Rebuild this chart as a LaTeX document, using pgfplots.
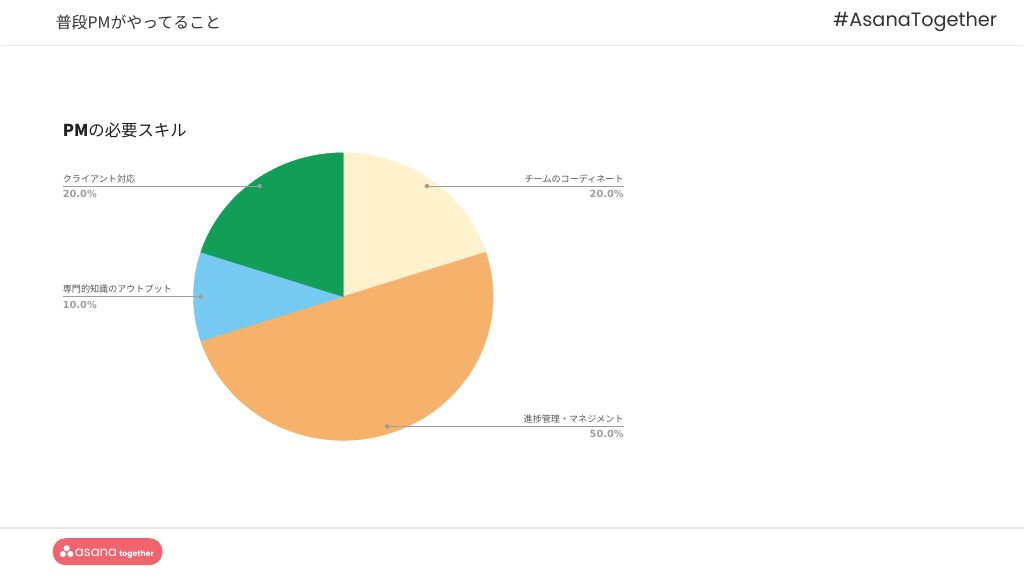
\documentclass[border=0pt]{standalone}
\usepackage{fontspec}
\setmainfont{Noto Sans CJK JP}
\newfontfamily\poppins{Poppins}
\newfontfamily\dejavu{DejaVu Sans}
\usepackage{pgfplots}
\usepackage{pgfplotstable}
\pgfplotsset{compat=1.18}

\definecolor{cream}{HTML}{FFF2CC}
\definecolor{orange}{HTML}{F6B26B}
\definecolor{sky}{HTML}{76C9F0}
\definecolor{green}{HTML}{129E57}
\definecolor{leadgray}{HTML}{9E9E9E}
\definecolor{labgray}{HTML}{555555}
\definecolor{headtext}{HTML}{333333}
\definecolor{rulegray}{HTML}{E6E6E6}
\definecolor{coral}{HTML}{F0646E}

% empty mark, the scatter code draws the wedge itself
\pgfdeclareplotmark{nothing}{}

% pie centre in the pixel frame: cx, cy
\pgfplotstableread{
row pct color label cx cy
0 20 cream チームのコーディネート 343 297
1 50 orange 進捗管理・マネジメント 343 297
2 10 sky 専門的知識のアウトプット 343 297
3 20 green クライアント対応 343 297
}\piedata
\pgfplotstablecreatecol[expr accum={\pgfmathaccuma+\thisrow{pct}}{0}]{cum}\piedata

\begin{document}
\begin{tikzpicture}
\begin{axis}[
  hide axis, scale only axis,
  width=1024pt, height=576pt,
  xmin=0, xmax=1024, ymin=0, ymax=576,
  y dir=reverse, clip=false,
]
\fill[white] (axis cs:0,0) rectangle (axis cs:1024,576);

% header and footer
\node[anchor=west, inner sep=0, text=headtext, font=\fontsize{15.9}{19}\selectfont]
  at (axis cs:55,22) {普段PMがやってること};
\node[anchor=east, inner sep=0, text=headtext, font=\poppins\fontsize{19.3}{23}\selectfont]
  at (axis cs:998,22) {\#AsanaTogether};
\draw[rulegray, line width=1.5pt] (axis cs:0,45.5) -- (axis cs:1024,45.5);
\draw[rulegray, line width=1.5pt] (axis cs:0,529) -- (axis cs:1024,529);
\fill[coral, rounded corners=13pt] (axis cs:52,539) rectangle (axis cs:162,566);
\fill[white] (axis cs:66,549) circle (3pt);
\fill[white] (axis cs:62.3,554.8) circle (3pt);
\fill[white] (axis cs:69.7,554.8) circle (3pt);
\node[anchor=base west, inner sep=0, text=white, font=\poppins\fontsize{13.3}{16}\selectfont]
  at (axis cs:74,557.5) {asana};
\node[anchor=base west, inner sep=0, text=white, font=\poppins\bfseries\fontsize{7.8}{9}\selectfont]
  at (axis cs:118.5,557.5) {together};

% title
\node[anchor=west, inner sep=0, text=black!88, font=\fontsize{16.4}{20}\selectfont]
  at (axis cs:62,131) {\textbf{PM}の必要スキル};

% wedges
\addplot[
  only marks, scatter, mark=nothing,
  visualization depends on={\thisrow{row} \as \idx},
  visualization depends on={\thisrow{pct} \as \pct},
  visualization depends on={\thisrow{cum} \as \cum},
  scatter/@pre marker code/.code={%
    \pgfmathtruncatemacro\ri{\idx}%
    \pgfplotstablegetelem{\ri}{color}\of\piedata
    \let\wcol\pgfplotsretval
    \pgfmathsetmacro\wa{90-3.6*(\cum-\pct)}%
    \pgfmathsetmacro\wb{90-3.6*\cum}%
    \fill[\wcol] (0,0) -- (\wa:150pt and 144pt)
      arc[start angle=\wa, end angle=\wb, x radius=150pt, y radius=144pt] -- cycle;%
  },
  scatter/@post marker code/.code={},
] table[x=cx, y=cy] {\piedata};

% leader lines and labels
\addplot[
  only marks, scatter, mark=nothing,
  visualization depends on={\thisrow{row} \as \idx},
  visualization depends on={\thisrow{pct} \as \pct},
  visualization depends on={\thisrow{cum} \as \cum},
  scatter/@pre marker code/.code={%
    \pgfmathtruncatemacro\ri{\idx}%
    \pgfplotstablegetelem{\ri}{label}\of\piedata
    \let\wlab\pgfplotsretval
    \pgfmathsetmacro\wm{90-3.6*(\cum-\pct/2)}%
    \pgfmathsetmacro\px{0.95*150*cos(\wm)}%
    \pgfmathsetmacro\py{0.95*144*sin(\wm)}%
    \pgfmathsetmacro\side{cos(\wm)>=0 ? 1 : -1}%
    \ifdim\side pt>0pt \def\anc{east}\else\def\anc{west}\fi
    \draw[leadgray, line width=1pt] (\px pt,\py pt) -- (\side*281pt,\py pt);%
    \fill[leadgray] (\px pt,\py pt) circle (2pt);%
    \node[anchor=base \anc, inner sep=0, text=labgray, font=\fontsize{9.1}{11}\selectfont]
      at (\side*281pt,\py pt+4pt) {\wlab};%
    \node[anchor=north \anc, inner sep=0, text=leadgray, font=\dejavu\bfseries\fontsize{9.8}{12}\selectfont]
      at (\side*281pt,\py pt-4pt)
      {\pgfmathprintnumber[fixed,fixed zerofill,precision=1,assume math mode=true]{\pct}\%};%
  },
  scatter/@post marker code/.code={},
] table[x=cx, y=cy] {\piedata};
\end{axis}
\end{tikzpicture}
\end{document}
